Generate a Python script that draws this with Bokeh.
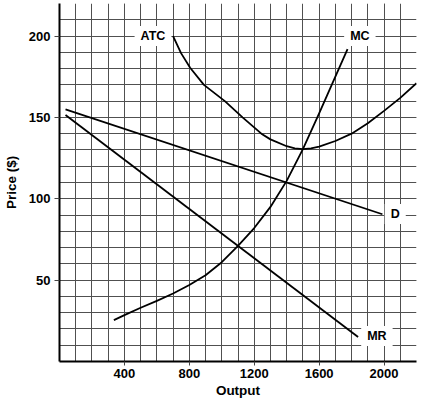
from bokeh.plotting import figure
from bokeh.models import ColumnDataSource, FixedTicker, Range1d
from bokeh.core.properties import value
from bokeh.embed import file_html
from bokeh.resources import INLINE

# ---- data ----
d_x = [37, 1990]
d_y = [155, 90.5]

mr_x = [37, 1840]
mr_y = [151.5, 15]

mc_x = [335, 400, 500, 600, 700, 800, 900, 1000, 1100, 1200, 1300, 1400, 1500, 1600, 1700, 1775]
mc_y = [25.4, 28.5, 33, 37.3, 41.8, 47, 53, 61, 71, 82, 95, 111, 130.5, 152.5, 175, 192]

atc_x = [700, 749, 805, 890, 1019, 1128, 1244, 1300, 1400, 1450, 1500, 1550, 1600, 1700, 1800, 1900, 2000, 2100, 2200]
atc_y = [200, 189.5, 180.5, 170, 160, 150, 140, 136.5, 132.3, 131, 130.5, 131, 132, 135.5, 140, 146.4, 154, 162, 171]

label_text = ["ATC", "MC", "D", "MR"]
label_x = [576, 1851, 2069, 1956]
label_y = [200, 200, 90.6, 15.6]

x_ticks = [400, 800, 1200, 1600, 2000]
y_ticks = [50, 100, 150, 200]
x_minor = list(range(0, 2201, 100))
y_minor = list(range(0, 221, 10))

FONT = "Liberation Sans"

p = figure(width=429, height=405, output_backend="svg", toolbar_location=None,
           x_range=Range1d(0, 2200), y_range=Range1d(0, 220),
           min_border_left=57, min_border_right=13, min_border_top=3, min_border_bottom=44)
p.outline_line_color = None
p.background_fill_color = "white"

for ax, ticks, minor in ((p.xaxis[0], x_ticks, x_minor), (p.yaxis[0], y_ticks, y_minor)):
    ax.ticker = FixedTicker(ticks=ticks, minor_ticks=minor)
    ax.axis_line_color = "black"
    ax.axis_line_width = 2
    ax.major_tick_line_color = "#444444"
    ax.major_tick_line_width = 1
    ax.major_tick_in = 0
    ax.minor_tick_line_color = None
    ax.major_label_text_font = FONT
    ax.major_label_text_font_style = "bold"
    ax.major_label_text_font_size = "13px"
    ax.major_label_text_color = "black"
    ax.axis_label_text_font = FONT
    ax.axis_label_text_font_style = "bold"
    ax.axis_label_text_font_size = "13.5px"
    ax.axis_label_text_color = "black"

p.xaxis.major_tick_out = 4
p.yaxis.major_tick_out = 5
p.xaxis.major_label_standoff = 3
p.yaxis.major_label_standoff = 4
p.xaxis.axis_label_standoff = 2
p.yaxis.axis_label_standoff = 7
p.xaxis.axis_label = "Output"
p.yaxis.axis_label = "Price ($)"

for g in (p.xgrid[0], p.ygrid[0]):
    g.grid_line_color = "#505050"
    g.grid_line_width = 1
    g.minor_grid_line_color = "#505050"
    g.minor_grid_line_width = 1

LW = 1.8
p.line(d_x, d_y, line_color="black", line_width=LW, line_join="round")
p.line(mr_x, mr_y, line_color="black", line_width=LW, line_join="round")
p.line(mc_x, mc_y, line_color="black", line_width=LW, line_join="round")
p.line(atc_x, atc_y, line_color="black", line_width=LW, line_join="round")

src = ColumnDataSource(dict(x=label_x, y=label_y, t=label_text))
p.text("x", "y", text="t", source=src, text_align="center", text_baseline="middle",
       text_font=value(FONT), text_font_style="bold", text_font_size="12.5px",
       text_color="black", background_fill_color="white", padding=(6, 3))

open("out.html", "w").write(file_html(p, INLINE))
